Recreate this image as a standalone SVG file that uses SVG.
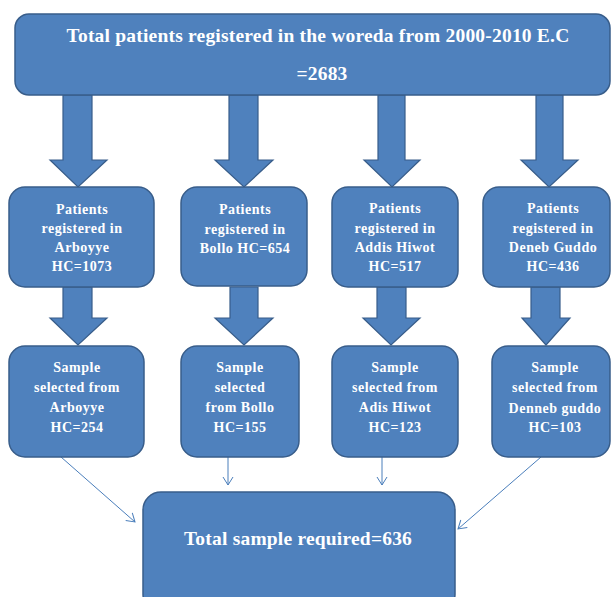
<svg xmlns="http://www.w3.org/2000/svg" width="611" height="597" viewBox="0 0 611 597">
<defs>
<style>
.box{fill:#4F81BD;stroke:#385D8A;stroke-width:1.5}
.blk{fill:#4F81BD;stroke:#385D8A;stroke-width:1.2}
.t{font-family:"Liberation Serif","Times New Roman",serif;font-weight:bold;fill:#FFFFFF;text-anchor:middle}
.s{font-size:14px;letter-spacing:0.5px}
.b{font-size:19.5px;letter-spacing:0.2px}
.ln{stroke:#4A7EBB;stroke-width:1;fill:none;marker-end:url(#ah)}
</style>
<marker id="ah" markerWidth="12" markerHeight="12" refX="9" refY="6" orient="auto" markerUnits="userSpaceOnUse">
<path d="M1,1 L9,6 L1,11" fill="none" stroke="#4A7EBB" stroke-width="1"/>
</marker>
</defs>
<g id="connectors">
<polygon class="blk" points="63,95 92,95 92,160 107,160 78,187 50,160 63,160"/>
<polygon class="blk" points="229,95 258,95 258,160 273,160 244,187 215,160 229,160"/>
<polygon class="blk" points="378,95 405,95 405,160 420,160 392,187 364,160 378,160"/>
<polygon class="blk" points="536,95 563,95 563,160 578,160 549,187 521,160 536,160"/>
<polygon class="blk" points="63,287 92,287 92,318 107,318 78,345 50,318 63,318"/>
<polygon class="blk" points="230,287 258,287 258,318 273,318 244,345 215,318 230,318"/>
<polygon class="blk" points="377,287 406,287 406,318 420,318 391,345 363,318 377,318"/>
<polygon class="blk" points="531,287 560,287 560,318 570,318 546,345 522,318 531,318"/>
<line class="ln" x1="61" y1="457" x2="135" y2="522"/>
<line class="ln" x1="228" y1="457" x2="228" y2="485"/>
<line class="ln" x1="382" y1="457" x2="382" y2="485"/>
<line class="ln" x1="541" y1="457" x2="458" y2="529"/>
</g>
<g id="top">
<rect class="box" x="15" y="14" width="595" height="81" rx="14"/>
<text class="t b" x="318" y="42">Total patients registered in the woreda from 2000-2010 E.C</text>
<text class="t b" x="322" y="80">=2683</text>
</g>
<g id="p1">
<rect class="box" x="9" y="187" width="145" height="100" rx="16"/>
<text class="t s" x="82" y="214">Patients</text>
<text class="t s" x="82" y="233">registered in</text>
<text class="t s" x="82" y="252">Arboyye</text>
<text class="t s" x="82" y="271">HC=1073</text>
</g>
<g id="p2">
<rect class="box" x="181" y="187" width="126" height="99" rx="16"/>
<text class="t s" x="245" y="214">Patients</text>
<text class="t s" x="245" y="234">registered in</text>
<text class="t s" x="245" y="253">Bollo HC=654</text>
</g>
<g id="p3">
<rect class="box" x="332" y="187" width="126" height="100" rx="16"/>
<text class="t s" x="395" y="213">Patients</text>
<text class="t s" x="395" y="233">registered in</text>
<text class="t s" x="395" y="252">Addis Hiwot</text>
<text class="t s" x="395" y="271">HC=517</text>
</g>
<g id="p4">
<rect class="box" x="483" y="187" width="127" height="100" rx="16"/>
<text class="t s" x="553" y="213">Patients</text>
<text class="t s" x="553" y="233">registered in</text>
<text class="t s" x="553" y="252">Deneb Guddo</text>
<text class="t s" x="553" y="271">HC=436</text>
</g>
<g id="s1">
<rect class="box" x="9" y="346" width="135" height="111" rx="16"/>
<text class="t s" x="77" y="372">Sample</text>
<text class="t s" x="77" y="392">selected from</text>
<text class="t s" x="77" y="412">Arboyye</text>
<text class="t s" x="77" y="432">HC=254</text>
</g>
<g id="s2">
<rect class="box" x="181" y="346" width="118" height="111" rx="16"/>
<text class="t s" x="240" y="372">Sample</text>
<text class="t s" x="240" y="392">selected</text>
<text class="t s" x="240" y="412">from Bollo</text>
<text class="t s" x="240" y="432">HC=155</text>
</g>
<g id="s3">
<rect class="box" x="332" y="346" width="126" height="111" rx="16"/>
<text class="t s" x="395" y="372">Sample</text>
<text class="t s" x="395" y="392">selected from</text>
<text class="t s" x="395" y="412">Adis Hiwot</text>
<text class="t s" x="395" y="432">HC=123</text>
</g>
<g id="s4">
<rect class="box" x="492" y="346" width="118" height="111" rx="16"/>
<text class="t s" x="555" y="372">Sample</text>
<text class="t s" x="555" y="392">selected from</text>
<text class="t s" x="555" y="413">Denneb guddo</text>
<text class="t s" x="555" y="432">HC=103</text>
</g>
<g id="total">
<rect class="box" x="143" y="492" width="312" height="120" rx="18"/>
<text class="t b" x="298" y="545">Total sample required=636</text>
</g>
</svg>
